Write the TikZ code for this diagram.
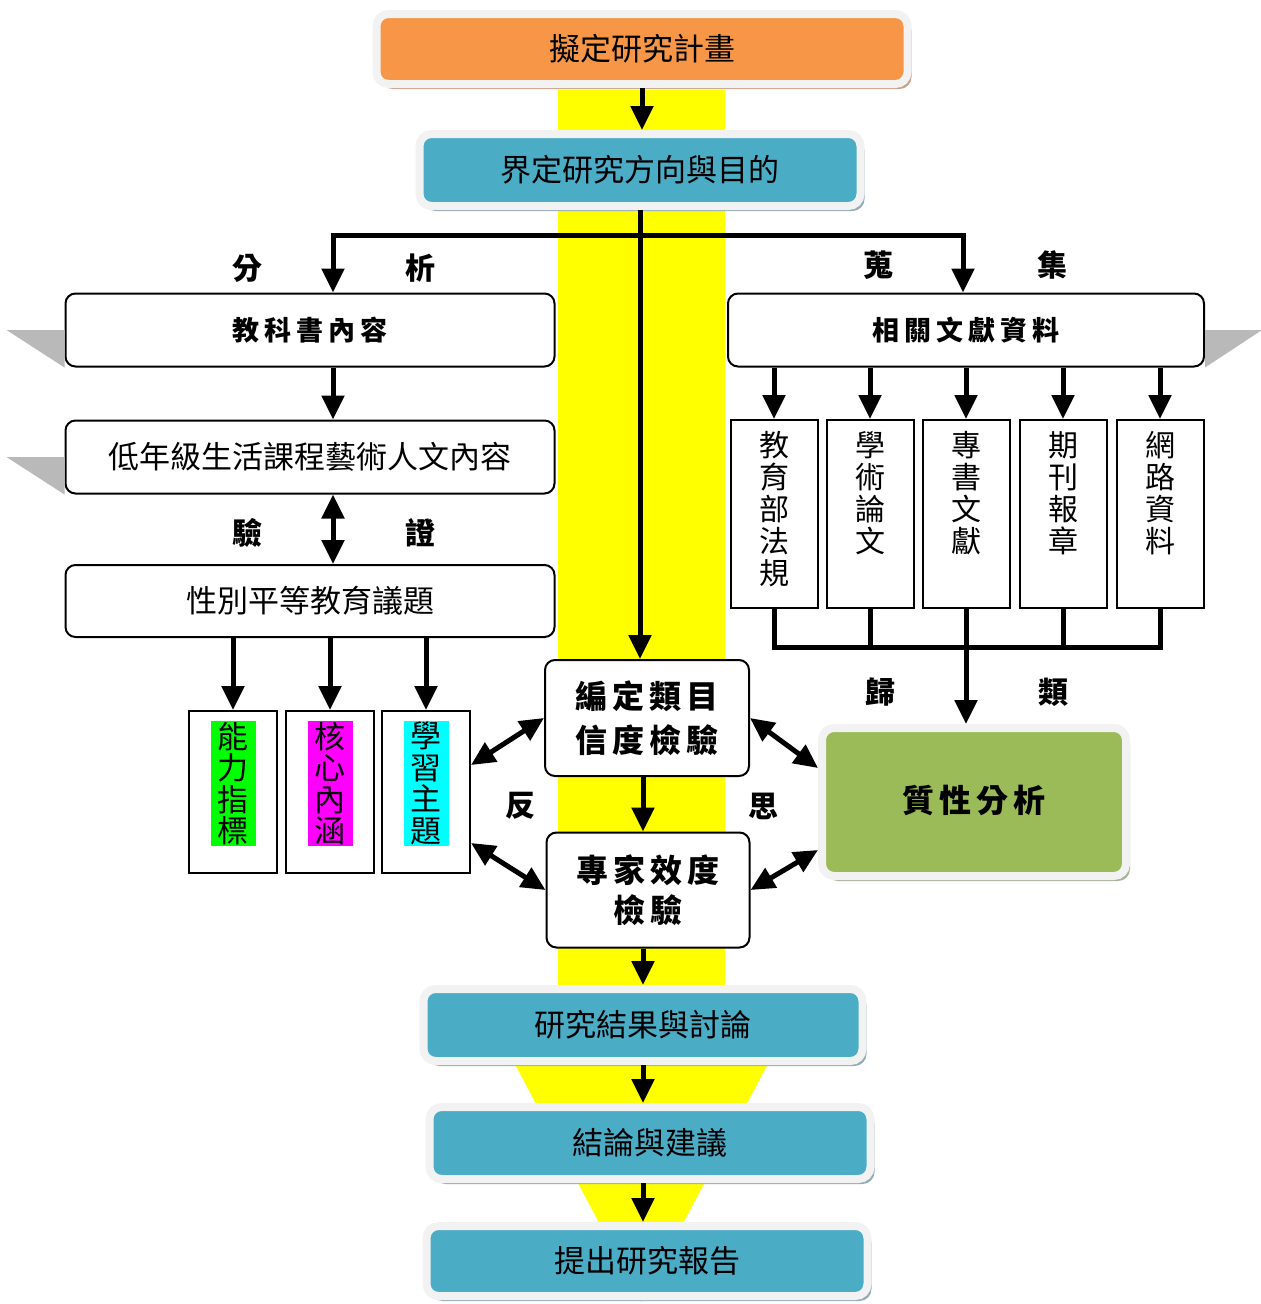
\documentclass[tikz,border=0pt]{standalone}
\usepackage{fontspec}
\newfontfamily\cjk{Noto Sans CJK TC}
\usetikzlibrary{arrows.meta, positioning, shadows}
\definecolor{planorange}{HTML}{F79646}
\definecolor{planshade}{HTML}{C9A088}
\definecolor{stepblue}{HTML}{4BACC6}
\definecolor{blueshade}{HTML}{93ADB8}
\definecolor{qualgreen}{HTML}{9BBB59}
\definecolor{greenshade}{HTML}{A9B39A}
\definecolor{boxrim}{HTML}{F2F2F2}
\definecolor{bandyellow}{RGB}{255,255,0}
\definecolor{hlgreen}{RGB}{0,255,0}
\definecolor{hlmagenta}{RGB}{255,0,255}
\definecolor{hlcyan}{RGB}{0,255,255}
\newcommand{\lsp}{\hspace{5pt}}

\begin{document}
\begin{tikzpicture}[x=1pt, y=-1pt, >={Triangle[width=22pt,length=24pt]},
    arr/.style={->, line width=5pt},
    darr/.style={<->, line width=5pt},
    rimbox/.style={draw=boxrim, line width=8pt, rounded corners=12pt, minimum width=441pt, minimum height=72pt, inner sep=0pt, font=\cjk\fontsize{31}{31}\selectfont},
    wbox/.style={draw, line width=2pt, rounded corners=10pt, fill=white, minimum width=489pt, minimum height=73pt, inner sep=0pt, font=\cjk\fontsize{31}{31}\selectfont},
    hbox/.style={wbox, font=\cjk\bfseries\fontsize{27}{27}\selectfont},
    sqbox/.style={draw, line width=2pt, fill=white, minimum width=88pt, minimum height=162pt},
    litbox/.style={draw, line width=2pt, fill=white, minimum width=87pt, minimum height=188pt},
    vtext/.style={align=center, inner sep=0pt, font=\cjk\fontsize{30}{32}\selectfont},
    hilite/.style={align=center, inner xsep=7pt, inner ysep=1pt, font=\cjk\fontsize{31}{31.5}\selectfont},
    lab/.style={font=\cjk\bfseries\fontsize{30}{30}\selectfont}]
    \useasboundingbox (0,0) rectangle (1261,1304);

    % Yellow band
    \fill[bandyellow] (558,90) rectangle (725,1000);
    \fill[bandyellow] (481,1000) -- (802,1000) -- (641,1302) -- cycle;

    % Main steps
    \node[rimbox, fill=planorange, minimum width=531pt, minimum height=70pt, drop shadow={fill=planshade, opacity=1, shadow xshift=4pt, shadow yshift=-5pt}] (plan) at (642,49) {擬定研究計畫};
    \node[rimbox, fill=stepblue, drop shadow={fill=blueshade, opacity=1, shadow xshift=4pt, shadow yshift=-5pt}] (dir) at (640,170) {界定研究方向與目的};

    % Left column
    \node[hbox] (textbook) at (310,330) {教\lsp 科\lsp 書\lsp 內\lsp 容};
    \node[wbox] (low) at (310,457) {低年級生活課程藝術人文內容};
    \node[wbox, minimum height=72pt] (gender) at (310,601) {性別平等教育議題};
    \fill[gray!55] (textbook.west) -- ++(-58,0) -- (textbook.south west) -- cycle;
    \fill[gray!55] (low.west) -- ++(-58,0) -- (low.south west) -- cycle;
    \node[sqbox] (ability) at (233,792) {};
    \node[sqbox] (core) at (330,792) {};
    \node[sqbox] (theme) at (426,792) {};
    \node[hilite, fill=hlgreen, below=11pt of ability.north] (abilityt) {能\\力\\指\\標};
    \node[hilite, fill=hlmagenta, below=11pt of core.north] (coret) {核\\心\\內\\涵};
    \node[hilite, fill=hlcyan, below=11pt of theme.north] (themet) {學\\習\\主\\題};

    % Right column
    \node[hbox, minimum width=476pt] (lit) at (966,330) {相\lsp 關\lsp 文\lsp 獻\lsp 資\lsp 料};
    \fill[gray!55] (lit.east) -- ++(57,0) -- (lit.south east) -- cycle;
    \node[litbox] (s1) at (774,514) {};
    \node[litbox] (s2) at (870,514) {};
    \node[litbox] (s3) at (966,514) {};
    \node[litbox] (s4) at (1063,514) {};
    \node[litbox] (s5) at (1160,514) {};
    \node[vtext, below=12pt of s1.north] (s1t) {教\\育\\部\\法\\規};
    \node[vtext, below=12pt of s2.north] (s2t) {學\\術\\論\\文};
    \node[vtext, below=12pt of s3.north] (s3t) {專\\書\\文\\獻};
    \node[vtext, below=12pt of s4.north] (s4t) {期\\刊\\報\\章};
    \node[vtext, below=12pt of s5.north] (s5t) {網\\路\\資\\料};
    \node[rimbox, fill=qualgreen, minimum width=304pt, minimum height=148pt, font=\cjk\bfseries\fontsize{32}{32}\selectfont, drop shadow={fill=greenshade, opacity=1, shadow xshift=4pt, shadow yshift=-5pt}] (qual) at (974,802) {\raisebox{7pt}{質\lsp 性\lsp 分\lsp 析}};

    % Middle checks
    \node[wbox, minimum width=204pt, minimum height=116pt, align=center, font=\cjk\bfseries\fontsize{32}{44}\selectfont] (code) at (647,718) {編\lsp 定\lsp 類\lsp 目\\信\lsp 度\lsp 檢\lsp 驗};
    \node[wbox, minimum width=203pt, minimum height=115pt, align=center, font=\cjk\bfseries\fontsize{32}{40}\selectfont] (expert) at (648,890) {專\lsp 家\lsp 效\lsp 度\\檢\lsp 驗};

    % Final steps
    \node[rimbox, fill=stepblue, minimum width=439pt, drop shadow={fill=blueshade, opacity=1, shadow xshift=4pt, shadow yshift=-5pt}] (result) at (643,1025) {研究結果與討論};
    \node[rimbox, fill=stepblue, drop shadow={fill=blueshade, opacity=1, shadow xshift=4pt, shadow yshift=-5pt}] (concl) at (650,1143) {結論與建議};
    \node[rimbox, fill=stepblue, minimum height=70pt, drop shadow={fill=blueshade, opacity=1, shadow xshift=4pt, shadow yshift=-5pt}] (report) at (647,1261) {提出研究報告};

    % Labels
    \node[lab] (fen) at (247,268) {分};
    \node[lab] (xi) at (420,268) {析};
    \node[lab] (sou) at (878,265) {蒐};
    \node[lab] (ji) at (1052,265) {集};
    \node[lab] (yan) at (247,533) {驗};
    \node[lab] (zheng) at (420,533) {證};
    \node[lab] (gui) at (880,692) {歸};
    \node[lab] (lei) at (1053,692) {類};
    \node[lab] (fan) at (520,806) {反};
    \node[lab] (si) at (763,806) {思};

    % Draw edges
    \coordinate (split) at (640,235);
    \coordinate (lcol) at (333,0);
    \coordinate (rcol) at (963,0);
    \coordinate (mcol) at (643,0);
    \coordinate (gather) at (965,647);
    \draw[arr] (plan.south) -- (plan.south |- dir.north);
    \draw[arr] (dir.south) -- (dir.south |- code.north);
    \draw[arr] (split) -| (lcol |- textbook.north); % to textbook
    \draw[arr] (split) -| (rcol |- lit.north); % to literature
    \draw[arr] (lcol |- textbook.south) -- (lcol |- low.north);
    \draw[darr] (lcol |- low.south) -- (lcol |- gender.north);
    \draw[arr] (gender.south -| ability.north) -- (ability.north);
    \draw[arr] (gender.south -| core.north) -- (core.north);
    \draw[arr] (gender.south -| theme.north) -- (theme.north);
    \foreach \s in {s1,s2,s3,s4,s5}
        \draw[arr] (lit.south -| \s.north) -- (\s.north);
    \draw[line width=5pt] (s1.south) |- (s5.south |- gather) -- (s5.south);
    \draw[line width=5pt] (s2.south) -- (s2.south |- gather);
    \draw[line width=5pt] (s4.south) -- (s4.south |- gather);
    \draw[arr] (s3.south) -- (s3.south |- qual.north);
    \draw[arr] (mcol |- code.south) -- (mcol |- expert.north);
    \draw[arr] (mcol |- expert.south) -- (mcol |- result.north);
    \draw[arr] (mcol |- result.south) -- (mcol |- concl.north);
    \draw[arr] (mcol |- concl.south) -- (mcol |- report.north);
    \draw[darr] (code.west) -- ([yshift=27pt]theme.east);
    \draw[darr] (expert.west) -- ([yshift=-51pt]theme.east);
    \draw[darr] (code.east) -- ([yshift=34pt]qual.west);
    \draw[darr] (expert.east) -- ([yshift=-48pt]qual.west);
\end{tikzpicture}
\end{document}
